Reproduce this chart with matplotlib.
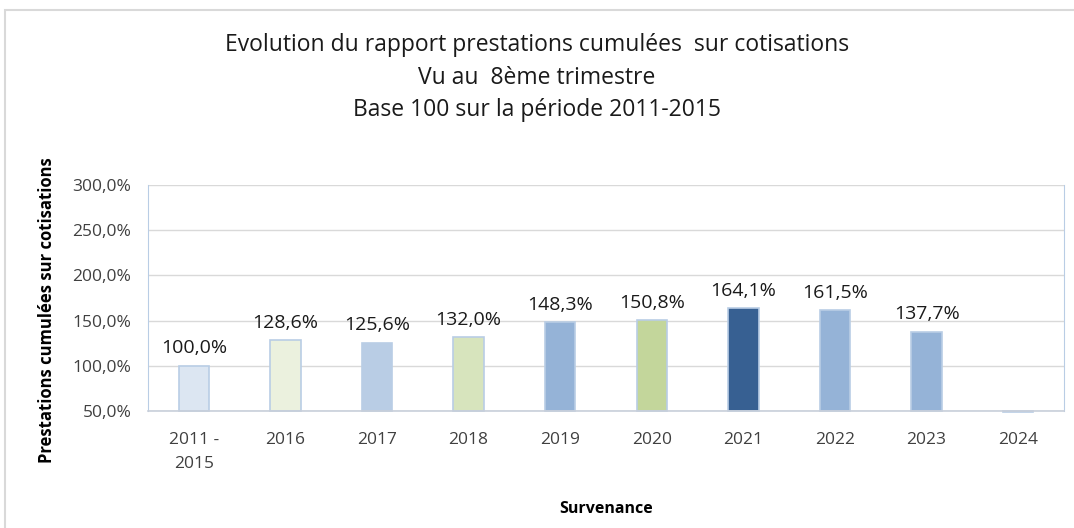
import numpy as np
import matplotlib.pyplot as plt
from matplotlib.patches import Rectangle

plt.rcParams['font.family'] = ['Open Sans', 'DejaVu Sans']

categories = ['2011 -\n2015', '2016', '2017', '2018', '2019', '2020', '2021', '2022', '2023', '2024']
values = [100.0, 128.6, 125.6, 132.0, 148.3, 150.8, 164.1, 161.5, 137.7, 49.0]
show_label = [True] * 9 + [False]
colors = ['#DCE6F2', '#EBF1DE', '#B9CDE5', '#D7E4BD', '#95B3D7',
          '#C3D69B', '#376092', '#95B3D7', '#95B3D7', '#95B3D7']

fig = plt.figure(figsize=(10.74, 5.28), dpi=100)
fig.patches.append(Rectangle((5 / 1074, -0.1), 1.2, 1 - 10 / 528 + 0.1,
                             transform=fig.transFigure, fill=False,
                             edgecolor='#D9D9D9', linewidth=1.5))

ax = fig.add_axes([148 / 1074, 1 - 411 / 528, (1064 - 148) / 1074, (411 - 185) / 528])

x = np.arange(len(categories))
base = 50
bars = ax.bar(x, np.array(values) - base, bottom=base, width=0.33, color=colors,
              edgecolor='#B9CDE5', linewidth=1.2, zorder=3)
for b in bars:
    b.set_clip_on(False)

for xi, v, s in zip(x, values, show_label):
    if s:
        ax.annotate(f'{v:.1f}%'.replace('.', ','), (xi, v), xytext=(0, 6),
                    textcoords='offset points', ha='center', va='bottom',
                    fontsize=14, color='#1a1a1a')

ax.set_xlim(-0.5, len(categories) - 0.5)
ax.set_ylim(50, 300)
yt = np.arange(50, 301, 50)
ax.set_yticks(yt)
ax.set_yticklabels([f'{t:.1f}%'.replace('.', ',') for t in yt], fontsize=12.5, color='#404040')
ax.set_xticks(x)
ax.set_xticklabels(categories, fontsize=12.5, color='#404040', linespacing=1.7)
ax.tick_params(axis='y', length=0, pad=12)
ax.tick_params(axis='x', length=0, pad=15)
ax.yaxis.grid(True, color='#D9D9D9', linewidth=1, zorder=0)
ax.set_axisbelow(True)
ax.spines['top'].set_visible(False)
ax.spines['left'].set_color('#B9CDE5')
ax.spines['right'].set_color('#B9CDE5')
ax.spines['bottom'].set_color('#C8CFDA')
ax.spines['bottom'].set_linewidth(1.2)
ax.spines['bottom'].set_zorder(4)

ax.set_ylabel('Prestations cumulées sur cotisations', fontsize=12, fontweight='bold')
ax.yaxis.set_label_coords(-0.100, 0.447)
ax.set_xlabel('Survenance', fontsize=11.5, fontweight='bold', labelpad=21)

fig.text(0.5, 1 - 45 / 528, 'Evolution du rapport prestations cumulées  sur cotisations',
         ha='center', va='center', fontsize=16.5, color='#1a1a1a')
fig.text(0.5, 1 - 78 / 528, 'Vu au  8ème trimestre', ha='center', va='center',
         fontsize=16.5, color='#1a1a1a')
fig.text(0.5, 1 - 110 / 528, 'Base 100 sur la période 2011-2015', ha='center', va='center',
         fontsize=16.5, color='#1a1a1a')

fig.savefig('out.png', dpi=100)
